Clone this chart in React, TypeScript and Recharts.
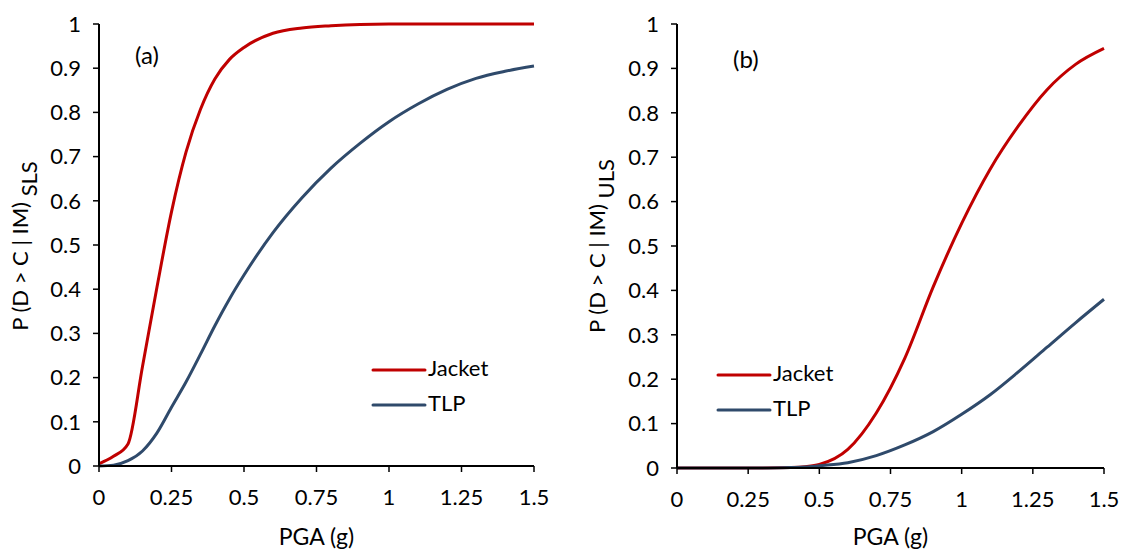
import React from "react";
import { LineChart, Line, XAxis, YAxis } from "recharts";

// PGA (g) sample points
const pgaSLS = [0, 0.05, 0.1, 0.15, 0.2, 0.25, 0.3, 0.35, 0.4, 0.45, 0.5, 0.6, 0.7, 0.8, 0.9, 1.0, 1.1, 1.2, 1.3, 1.4, 1.5];
const jacketSLS = [0.005, 0.022, 0.05, 0.225, 0.405, 0.575, 0.71, 0.807, 0.876, 0.92, 0.947, 0.979, 0.991, 0.996, 0.999, 1, 1, 1, 1, 1, 1];
const tlpSLS = [0, 0.002, 0.012, 0.034, 0.075, 0.133, 0.19, 0.253, 0.318, 0.378, 0.432, 0.528, 0.607, 0.674, 0.73, 0.779, 0.819, 0.852, 0.877, 0.893, 0.905];

const pgaULS = [0, 0.1, 0.2, 0.3, 0.4, 0.45, 0.5, 0.6, 0.7, 0.8, 0.9, 1.0, 1.1, 1.2, 1.3, 1.4, 1.5];
const jacketULS = [0, 0, 0, 0, 0.001, 0.003, 0.008, 0.042, 0.124, 0.247, 0.408, 0.551, 0.673, 0.771, 0.852, 0.909, 0.945];
const tlpULS = [0, 0, 0, 0, 0.001, 0.002, 0.005, 0.012, 0.028, 0.052, 0.082, 0.121, 0.165, 0.217, 0.272, 0.327, 0.38];

const xTicks = [0, 0.25, 0.5, 0.75, 1, 1.25, 1.5];
const yTicks = [0, 0.1, 0.2, 0.3, 0.4, 0.5, 0.6, 0.7, 0.8, 0.9, 1];

const FONT = "Lato, 'Open Sans', sans-serif";
const RED = "#c00000";
const BLUE = "#2f4a6b";

type PanelProps = {
  pga: number[];
  jacket: number[];
  tlp: number[];
  left: number;
  width: number;
  yAxisWidth: number;
  marginRight: number;
  bottom: number;
  tag: string;
  tagX: number;
  tagY: number;
  sub: string;
  titleX: number;
  legendX: number;
  legendY: number;
};

function Panel(p: PanelProps) {
  const data = p.pga.map((x, i) => ({ pga: x, jacket: p.jacket[i], tlp: p.tlp[i] }));
  const tick = { fill: "#000", fontSize: 22, fontFamily: FONT };
  const plotLeft = p.yAxisWidth;
  const plotRight = p.width - p.marginRight;
  return (
    <div style={{ position: "absolute", left: p.left, top: 0, width: p.width, height: 549 }}>
      <LineChart width={p.width} height={549} data={data} margin={{ top: 24, right: p.marginRight, bottom: p.bottom - 40, left: 0 }}>
        <XAxis dataKey="pga" type="number" domain={[0, 1.5]} ticks={xTicks} interval={0}
          tick={tick} tickSize={6} tickMargin={17} height={40}
          axisLine={{ stroke: "#000", strokeWidth: 2 }} tickLine={{ stroke: "#000", strokeWidth: 1.5 }}
          tickFormatter={(v: number) => String(v)} />
        <XAxis xAxisId="top" orientation="top" dataKey="pga" type="number" domain={[0, 1.5]} height={0}
          tick={false} tickLine={false} axisLine={{ stroke: "#000", strokeWidth: 2 }} />
        <YAxis type="number" domain={[0, 1]} ticks={yTicks} interval={0} width={p.yAxisWidth}
          tick={tick} tickSize={6} tickMargin={12}
          axisLine={{ stroke: "#000", strokeWidth: 2 }} tickLine={{ stroke: "#000", strokeWidth: 1.5 }}
          tickFormatter={(v: number) => String(v)} />
        <YAxis yAxisId="right" orientation="right" type="number" domain={[0, 1]} width={0}
          tick={false} tickLine={false} axisLine={{ stroke: "#000", strokeWidth: 2 }} />
        <Line type="monotone" dataKey="jacket" stroke={RED} strokeWidth={3} dot={false} isAnimationActive={false} />
        <Line type="monotone" dataKey="tlp" stroke={BLUE} strokeWidth={3} dot={false} isAnimationActive={false} />
      </LineChart>
      <svg width={p.width} height={549} style={{ position: "absolute", left: 0, top: 0, pointerEvents: "none" }}
        fontFamily={FONT} fill="#000">
        <text x={p.tagX} y={p.tagY} fontSize={24} dominantBaseline="middle">{p.tag}</text>
        <text transform={`translate(${p.titleX}, 246) rotate(-90)`} fontSize={22} textAnchor="middle">
          P (D &gt; C | IM)<tspan dy={9}> {p.sub}</tspan>
        </text>
        <text x={(plotLeft + plotRight) / 2} y={539} fontSize={23} textAnchor="middle" dominantBaseline="middle">PGA (g)</text>
        <line x1={p.legendX} x2={p.legendX + 52} y1={p.legendY} y2={p.legendY} stroke={RED} strokeWidth={3} strokeLinecap="round" />
        <text x={p.legendX + 55} y={p.legendY} fontSize={22} dominantBaseline="middle">Jacket</text>
        <line x1={p.legendX} x2={p.legendX + 52} y1={p.legendY + 35} y2={p.legendY + 35} stroke={BLUE} strokeWidth={3} strokeLinecap="round" />
        <text x={p.legendX + 55} y={p.legendY + 35} fontSize={22} dominantBaseline="middle">TLP</text>
      </svg>
    </div>
  );
}

export default function App() {
  return (
    <div style={{ position: "absolute", left: 0, top: 0, width: 1124, height: 549, background: "#fff", overflow: "hidden" }}>
      <Panel pga={pgaSLS} jacket={jacketSLS} tlp={tlpSLS} left={0} width={560} yAxisWidth={99} marginRight={26}
        bottom={83} tag="(a)" tagX={135} tagY={58} sub="SLS" titleX={28} legendX={373} legendY={370} />
      <Panel pga={pgaULS} jacket={jacketULS} tlp={tlpULS} left={560} width={564} yAxisWidth={117} marginRight={20}
        bottom={81} tag="(b)" tagX={173} tagY={62} sub="ULS" titleX={45} legendX={158} legendY={375} />
    </div>
  );
}
